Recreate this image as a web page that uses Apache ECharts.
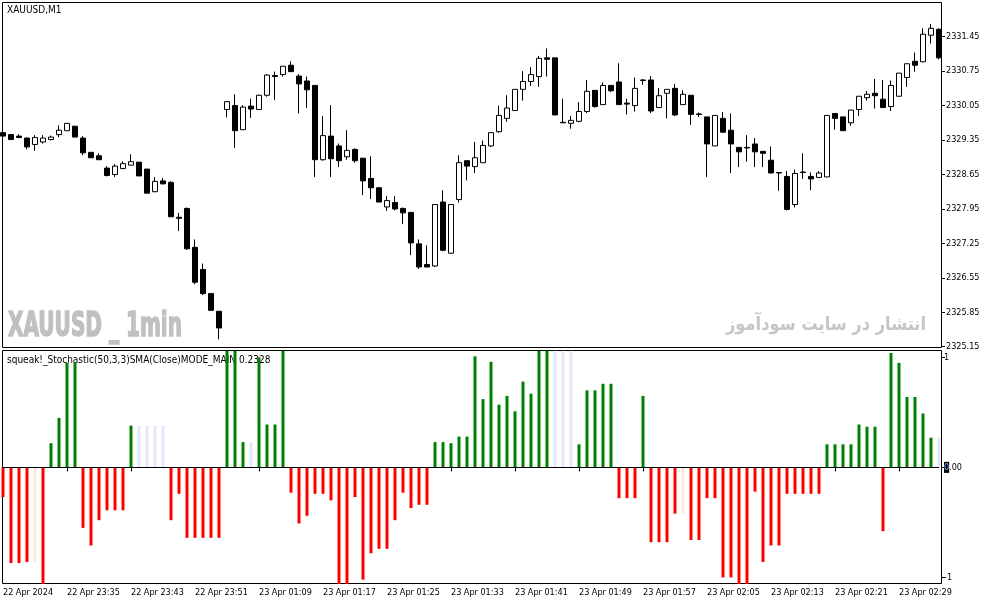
<!DOCTYPE html>
<html lang="en">
<head>
<meta charset="utf-8" />
<title>XAUUSD,M1</title>
<script src="https://cdn.jsdelivr.net/npm/echarts@6.0.0/dist/echarts.min.js"></script>
<style>
  html, body { margin: 0; background: #fff; }
  #chart { width: 987px; height: 605px; }
</style>
</head>
<body>
<div id="chart"></div>
<script>
// time of each 1 minute bar (gap = market break)
const day22Times = ['23:27','23:28','23:29','23:30','23:31','23:32','23:33','23:34','23:35','23:36',
  '23:37','23:38','23:39','23:40','23:41','23:42','23:43','23:44','23:45','23:46','23:47','23:48',
  '23:49','23:50','23:51','23:52','23:53','23:54']
const day23Times = ['01:05','01:06','01:07','01:08','01:09','01:10','01:11','01:12','01:13','01:14',
  '01:15','01:16','01:17','01:18','01:19','01:20','01:21','01:22','01:23','01:24','01:25','01:26',
  '01:27','01:28','01:29','01:30','01:31','01:32','01:33','01:34','01:35','01:36','01:37','01:38',
  '01:39','01:40','01:41','01:42','01:43','01:44','01:45','01:46','01:47','01:48','01:49','01:50',
  '01:51','01:52','01:53','01:54','01:55','01:56','01:57','01:58','01:59','02:00','02:01','02:02',
  '02:03','02:04','02:05','02:06','02:07','02:08','02:09','02:10','02:11','02:12','02:13','02:14',
  '02:15','02:16','02:17','02:18','02:19','02:20','02:21','02:22','02:23','02:24','02:25','02:26',
  '02:27','02:28','02:29','02:30','02:31','02:32','02:33','02:34']
const firstLabel = '22 Apr 2024'

const opens = [2329.50,2329.46,2329.43,2329.39,2329.26,2329.31,2329.36,2329.46,2329.54,2329.63,
  2329.39,2329.10,2329.03,2328.78,2328.65,2328.77,2328.84,2328.90,2328.76,2328.30,
  2328.52,2328.49,2327.78,2327.96,2327.17,2326.72,2326.23,2325.87,2329.97,2330.05,
  2329.56,2330.04,2329.97,2330.26,2330.66,2330.68,2330.87,2330.65,2330.55,2330.46,
  2328.95,2329.43,2329.23,2329.01,2329.16,2328.98,2328.57,2328.38,2327.99,2328.08,
  2327.96,2327.88,2327.24,2326.82,2326.79,2328.09,2327.05,2328.14,2328.93,2328.81,
  2328.89,2329.23,2329.52,2329.79,2329.95,2330.38,2330.54,2330.64,2331.02,2331.02,
  2329.71,2329.69,2329.73,2329.93,2330.36,2330.07,2330.46,2330.53,2330.10,2330.05,
  2330.56,2330.57,2330.01,2330.30,2330.40,2330.07,2330.26,2329.88,2329.82,2329.23,
  2329.79,2329.55,2329.20,2329.20,2329.27,2329.12,2328.94,2328.69,2328.61,2328.04,
  2328.69,2328.61,2328.59,2328.60,2329.89,2329.82,2329.70,2329.97,2330.21,2330.30,
  2330.18,2330.03,2330.24,2330.62,2330.95,2330.94,2331.48,2331.60]
const highs = [2329.51,2329.47,2329.47,2329.40,2329.45,2329.45,2329.44,2329.65,2329.69,2329.64,
  2329.43,2329.10,2329.08,2328.82,2328.86,2328.92,2329.06,2328.90,2328.76,2328.60,
  2328.58,2328.51,2327.87,2327.98,2327.33,2326.84,2326.23,2325.87,2330.13,2330.28,
  2330.06,2330.19,2330.27,2330.69,2330.74,2330.85,2330.95,2330.69,2330.64,2330.47,
  2329.84,2330.06,2329.28,2329.55,2329.18,2328.99,2329.02,2328.39,2328.21,2328.21,
  2327.98,2327.88,2327.33,2327.21,2328.04,2328.33,2328.04,2329.04,2328.93,2329.31,
  2329.34,2329.50,2330.05,2330.26,2330.38,2330.75,2330.83,2331.06,2331.21,2331.02,
  2330.19,2329.84,2330.12,2330.57,2330.36,2330.52,2330.47,2330.91,2330.19,2330.62,
  2330.59,2330.65,2330.41,2330.38,2330.49,2330.36,2330.26,2329.91,2329.82,2329.85,
  2329.92,2329.89,2329.20,2329.45,2329.39,2329.12,2329.22,2328.69,2328.72,2328.75,
  2329.08,2328.69,2328.72,2329.85,2329.89,2329.82,2329.96,2330.24,2330.35,2330.59,
  2330.57,2330.56,2330.71,2330.90,2331.13,2331.62,2331.71,2331.62]
const lows = [2329.42,2329.35,2329.39,2329.16,2329.13,2329.28,2329.34,2329.41,2329.54,2329.41,
  2329.04,2328.99,2328.95,2328.61,2328.60,2328.76,2328.84,2328.62,2328.27,2328.29,
  2328.45,2327.79,2327.50,2327.12,2326.42,2326.20,2325.89,2325.30,2329.81,2329.19,
  2329.56,2329.80,2329.96,2330.23,2330.16,2330.64,2330.74,2329.89,2330.00,2328.60,
  2328.93,2328.60,2328.80,2328.95,2328.89,2328.23,2328.15,2328.09,2327.91,2327.92,
  2327.64,2327.01,2326.73,2326.77,2326.77,2327.09,2327.04,2328.08,2328.53,2328.68,
  2328.89,2329.21,2329.50,2329.72,2329.95,2330.15,2330.45,2330.43,2330.64,2329.86,
  2329.70,2329.58,2329.71,2329.90,2330.01,2330.07,2330.33,2330.07,2329.87,2329.93,
  2330.47,2329.90,2330.00,2329.79,2329.84,2330.07,2329.66,2329.82,2328.60,2329.23,
  2329.50,2328.68,2328.80,2328.91,2328.80,2328.80,2328.68,2328.32,2327.92,2327.98,
  2328.56,2328.33,2328.59,2328.60,2329.56,2329.54,2329.64,2329.84,2330.15,2329.99,
  2330.01,2329.94,2330.24,2330.43,2330.74,2330.93,2331.31,2330.99]
const closes = [2329.43,2329.36,2329.40,2329.21,2329.40,2329.39,2329.41,2329.55,2329.69,2329.41,
  2329.09,2328.99,2328.95,2328.63,2328.82,2328.87,2328.91,2328.62,2328.27,2328.51,
  2328.46,2327.79,2327.76,2327.14,2326.46,2326.23,2325.89,2325.53,2330.13,2329.54,
  2330.02,2329.98,2330.26,2330.67,2330.64,2330.85,2330.74,2330.49,2330.37,2328.95,
  2329.44,2328.97,2328.93,2329.14,2328.93,2328.52,2328.38,2328.09,2328.12,2327.95,
  2327.87,2327.26,2326.77,2326.77,2328.04,2327.11,2328.04,2328.89,2328.82,2328.99,
  2329.24,2329.50,2329.85,2330.00,2330.38,2330.54,2330.68,2331.01,2330.99,2329.86,
  2329.70,2329.75,2329.93,2330.34,2330.03,2330.46,2330.35,2330.07,2330.08,2330.40,
  2330.57,2329.94,2330.25,2330.38,2329.86,2330.28,2329.87,2329.87,2329.27,2329.85,
  2329.51,2329.27,2329.11,2329.19,2329.11,2329.08,2328.68,2328.68,2327.94,2328.67,
  2328.70,2328.56,2328.68,2329.85,2329.79,2329.54,2329.96,2330.24,2330.28,2330.25,
  2330.01,2330.46,2330.71,2330.90,2330.87,2331.50,2331.62,2331.02]

// squeak! stochastic histogram
const stoch = [-0.27,-0.87,-0.87,-0.86,-0.86,-1.06,0.22,0.45,0.95,0.95,
  -0.55,-0.71,-0.48,-0.39,-0.39,-0.39,0.38,0.38,0.38,0.38,
  0.38,-0.48,-0.24,-0.64,-0.64,-0.64,-0.64,-0.64,1.06,1.06,
  0.23,0.23,1.00,0.39,0.39,1.06,-0.23,-0.51,-0.44,-0.24,
  -0.24,-0.30,-1.06,-1.06,-0.27,-1.02,-0.78,-0.74,-0.74,-0.48,
  -0.23,-0.37,-0.34,-0.34,0.23,0.23,0.22,0.28,0.28,1.01,
  0.62,0.96,0.57,0.65,0.51,0.78,0.67,1.06,1.06,1.06,
  1.06,1.06,0.21,0.70,0.70,0.76,0.76,-0.28,-0.28,-0.28,
  0.65,-0.68,-0.68,-0.68,-0.42,-0.42,-0.66,-0.66,-0.28,-0.28,
  -1.00,-1.00,-1.06,-1.06,-0.22,-0.86,-0.71,-0.71,-0.24,-0.24,
  -0.24,-0.24,-0.24,0.21,0.21,0.21,0.21,0.39,0.37,0.37,
  -0.58,1.04,0.95,0.64,0.64,0.49,0.27,0.27]
const lavenderBars = [17, 18, 19, 20, 31, 69, 70, 71, 117]
const beigeBars = [4, 85]

const priceTicks = [2325.15, 2325.85, 2326.55, 2327.25, 2327.95, 2328.65, 2329.35, 2330.05, 2330.75, 2331.45]
const stochTicks = [-1, 0, 1]

const chartTitle = 'XAUUSD,M1'
const indicatorTitle = 'squeak!_Stochastic(50,3,3)SMA(Close)MODE_MAIN 0.2328'
const watermark = 'XAUUSD _ 1min'
const watermarkFa = 'انتشار در سایت سودآموز'

const uiFont = '"DejaVu Sans Condensed", "DejaVu Sans", sans-serif'
const markFamily = '"DejaVu Sans Condensed", "DejaVu Sans", sans-serif'
const markFaFamily = '"DejaVu Sans", sans-serif'

let categories = day22Times.map(t => '22 Apr ' + t).concat(day23Times.map(t => '23 Apr ' + t))

let candles = opens.map((o, i) => [o, closes[i], lows[i], highs[i]])

function barColor(v, i) {
    if (lavenderBars.includes(i)) return '#e6e6fa'
    if (beigeBars.includes(i)) return '#faebd7'
    return v >= 0 ? '#008000' : '#ff0000'
}

let stochBars = stoch.map((v, i) => ({ value: v, itemStyle: { color: barColor(v, i) } }))

// squeeze the watermarks to the width they take in the terminal
function fitScale(text, font, width) {
    let ctx = document.createElement('canvas').getContext('2d')
    ctx.font = font
    return width / ctx.measureText(text).width
}

let chart = echarts.init(document.getElementById('chart'))

chart.setOption({
    animation: false,
    backgroundColor: '#fff',
    grid: [
        { left: 3, width: 936, top: 2, height: 346 },
        { left: 3, width: 936, top: 350, height: 234 }
    ],
    xAxis: [{
        type: 'category',
        gridIndex: 0,
        data: categories,
        boundaryGap: false,
        axisLine: { show: false },
        axisTick: { show: false },
        axisLabel: { show: false },
        splitLine: { show: false }
    }, {
        type: 'category',
        gridIndex: 1,
        data: categories,
        boundaryGap: false,
        axisLine: { show: false },
        axisTick: { show: true, interval: 7, length: 4, lineStyle: { color: '#000' } },
        axisLabel: {
            interval: 7,
            align: 'left',
            margin: 4,
            color: '#000',
            fontFamily: uiFont,
            fontSize: 9,
            formatter: (v, i) => i === 0 ? firstLabel : v
        },
        splitLine: { show: false }
    }],
    yAxis: [{
        type: 'value',
        gridIndex: 0,
        position: 'right',
        offset: 3,
        min: 2325.124,
        max: 2332.155,
        axisLine: { show: false },
        axisTick: { show: true, length: 3, customValues: priceTicks, lineStyle: { color: '#000' } },
        axisLabel: {
            customValues: priceTicks,
            margin: 4,
            color: '#000',
            fontFamily: uiFont,
            fontSize: 9,
            formatter: v => v.toFixed(2)
        },
        splitLine: { show: false }
    }, {
        type: 'value',
        gridIndex: 1,
        position: 'right',
        offset: 3,
        min: -1.06,
        max: 1.067,
        axisLine: { show: false },
        axisTick: { show: true, length: 3, customValues: stochTicks, lineStyle: { color: '#000' } },
        axisLabel: {
            customValues: stochTicks,
            margin: 2,
            color: '#000',
            fontFamily: uiFont,
            fontSize: 9,
            formatter: v => v === 0 ? '{box|0}.00' : String(v),
            rich: {
                box: { backgroundColor: '#000', color: '#7ab0ff', fontFamily: uiFont, fontSize: 9, padding: [1, 0, 1, 0] }
            }
        },
        splitLine: { show: false }
    }],
    series: [{
        type: 'candlestick',
        xAxisIndex: 0,
        yAxisIndex: 0,
        data: candles,
        barWidth: 5,
        itemStyle: {
            color: '#fff',
            color0: '#000',
            borderColor: '#000',
            borderColor0: '#000',
            borderColorDoji: '#000',
            borderWidth: 1
        }
    }, {
        type: 'bar',
        xAxisIndex: 1,
        yAxisIndex: 1,
        data: stochBars,
        barWidth: 3,
        markLine: {
            silent: true,
            symbol: 'none',
            label: { show: false },
            lineStyle: { color: '#000', type: 'solid', width: 1 },
            data: [{ yAxis: 0 }]
        }
    }],
    graphic: [
        // panel frames
        { type: 'rect', shape: { x: 2.5, y: 2.5, width: 939, height: 345 }, style: { fill: 'none', stroke: '#000', lineWidth: 1 }, silent: true },
        { type: 'rect', shape: { x: 2.5, y: 350.5, width: 939, height: 233 }, style: { fill: 'none', stroke: '#000', lineWidth: 1 }, silent: true },
        { type: 'text', x: 7, y: 5, style: { text: chartTitle, fontFamily: uiFont, fontSize: 10, fill: '#000' }, silent: true },
        { type: 'text', x: 7, y: 355, style: { text: indicatorTitle, fontFamily: uiFont, fontSize: 10, fill: '#000' }, silent: true },
        {
            type: 'text', x: 8, y: 310, z: -1,
            scaleX: fitScale(watermark, 'bold 34px ' + markFamily, 174),
            style: {
                text: watermark, fontFamily: markFamily, fontSize: 34, fontWeight: 'bold',
                fill: '#c0c0c0', stroke: '#c0c0c0', lineWidth: 1.5
            },
            silent: true
        },
        {
            type: 'text', x: 926, y: 316, z: -1,
            scaleX: fitScale(watermarkFa, 'bold 19px ' + markFaFamily, 200),
            style: {
                text: watermarkFa, fontFamily: markFaFamily, fontSize: 19, fontWeight: 'bold',
                fill: '#c6c6c6', align: 'right'
            },
            silent: true
        }
    ]
})
</script>
</body>
</html>
